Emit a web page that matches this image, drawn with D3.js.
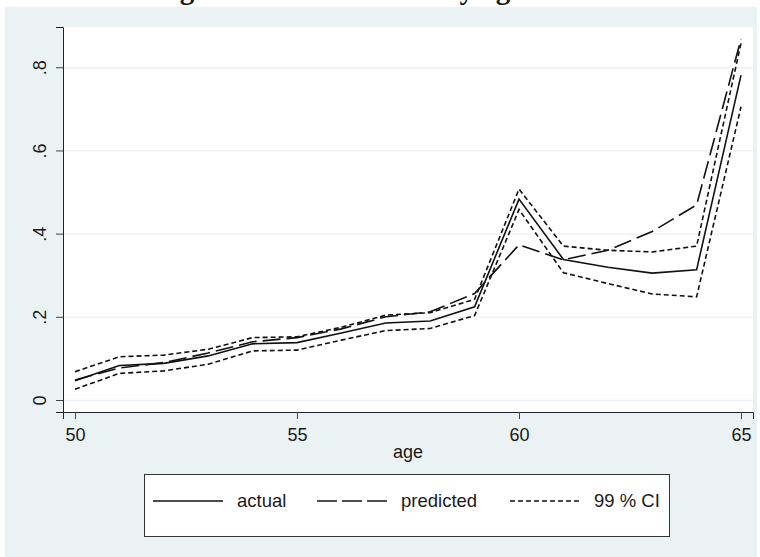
<!DOCTYPE html>
<html>
<head>
<meta charset="utf-8">
<script src="https://cdn.jsdelivr.net/npm/d3@7"></script>
<style>
  body { margin: 0; background: #fff; }
  text { font-family: "Liberation Sans", Arial, sans-serif; fill: #1a1a1a; }
</style>
</head>
<body>
<div class="chart"></div>
<script>
// data
var ages = [50, 51, 52, 53, 54, 55, 56, 57, 58, 59, 60, 61, 62, 63, 64, 65];
var actual    = [0.046, 0.083, 0.088, 0.106, 0.135, 0.138, 0.161, 0.185, 0.190, 0.224, 0.483, 0.338, 0.319, 0.305, 0.313, 0.781];
var predicted = [0.048, 0.077, 0.090, 0.113, 0.140, 0.150, 0.171, 0.200, 0.212, 0.256, 0.373, 0.337, 0.360, 0.405, 0.469, 0.868];
var ciUpper   = [0.068, 0.104, 0.108, 0.122, 0.150, 0.152, 0.175, 0.204, 0.210, 0.242, 0.507, 0.370, 0.360, 0.356, 0.370, 0.858];
var ciLower   = [0.026, 0.064, 0.070, 0.086, 0.118, 0.120, 0.144, 0.167, 0.172, 0.203, 0.458, 0.306, 0.280, 0.255, 0.248, 0.705];

var xTicks = [50, 55, 60, 65];
var yTicks = [0, 0.2, 0.4, 0.6, 0.8];
var legendLabels = ["actual", "predicted", "99 % CI"];
var titleText = "Figure 2: Hazard rates by age";

var W = 760, H = 557;
var plot = {left: 63, right: 753, top: 27, bottom: 412};

var svg = d3.select(".chart").append("svg")
    .attr("width", W)
    .attr("height", H);

// outer stata-like background
svg.append("rect")
    .attr("x", 5).attr("y", 7)
    .attr("width", 752).attr("height", 550)
    .attr("fill", "#eaf2f3");

// title, mostly cut off above the page (only descenders show)
svg.append("text")
    .attr("x", 154)
    .attr("y", -1)
    .style("font-family", "'Liberation Serif', 'Times New Roman', serif")
    .style("font-weight", "bold")
    .style("font-size", "29px")
    .text(titleText);

// plot region
svg.append("rect")
    .attr("x", plot.left).attr("y", plot.top)
    .attr("width", plot.right - plot.left)
    .attr("height", plot.bottom - plot.top)
    .attr("fill", "#fff");

var x = d3.scaleLinear().domain([49.73, 65.27]).range([plot.left, plot.right]);
var y = d3.scaleLinear().domain([-0.02885, 0.8968]).range([plot.bottom, plot.top]);

// grid lines
svg.append("g")
    .attr("transform", "translate(" + plot.left + ",0)")
    .call(d3.axisLeft(y).tickValues(yTicks).tickSize(-(plot.right - plot.left)).tickFormat(""))
    .call(function (g) {
        g.select(".domain").remove();
        g.selectAll("line").attr("stroke", "#eaf2f3").attr("stroke-width", 1.3);
    });

// series
var series = [
    {name: "actual", values: actual, dash: null},
    {name: "predicted", values: predicted, dash: "18,6"},
    {name: "upper", values: ciUpper, dash: "5,3"},
    {name: "lower", values: ciLower, dash: "5,3"}
];

var line = d3.line()
    .x(function (d, i) { return x(ages[i]); })
    .y(function (d) { return y(d); });

svg.append("g").classed("lines", true)
    .selectAll("path")
    .data(series)
    .enter()
    .append("path")
    .attr("d", function (d) { return line(d.values); })
    .attr("fill", "none")
    .attr("stroke", "#111")
    .attr("stroke-width", 1.6)
    .attr("stroke-dasharray", function (d) { return d.dash; });

// y axis
svg.append("g")
    .attr("transform", "translate(" + plot.left + ",0)")
    .call(d3.axisLeft(y).tickValues(yTicks).tickSizeOuter(0).tickSize(7)
        .tickFormat(function (d) { return d === 0 ? "0" : String(+d.toFixed(1)).replace("0.", "."); }))
    .call(function (g) {
        g.select(".domain").attr("stroke", "#222");
        g.selectAll("line").attr("stroke", "#444");
        g.selectAll("text")
            .attr("x", null)
            .attr("dy", "0.35em")
            .attr("text-anchor", "middle")
            .attr("transform", "translate(-23,0) rotate(-90)")
            .style("font-size", "18px")
            .style("font-family", "'Liberation Sans', Arial, sans-serif")
            .attr("fill", "#1a1a1a");
    });

// x axis
svg.append("g")
    .attr("transform", "translate(0," + plot.bottom + ")")
    .call(d3.axisBottom(x).tickValues(xTicks).tickSizeOuter(0).tickSize(7).tickPadding(9))
    .call(function (g) {
        g.select(".domain").attr("stroke", "#222");
        g.selectAll("line").attr("stroke", "#444");
        g.selectAll("text")
            .style("font-size", "18px")
            .style("font-family", "'Liberation Sans', Arial, sans-serif")
            .attr("fill", "#1a1a1a");
    });

svg.append("text")
    .attr("x", (plot.left + plot.right) / 2)
    .attr("y", 458)
    .attr("text-anchor", "middle")
    .style("font-size", "18px")
    .text("age");

// legend
var legend = svg.append("g").classed("legend", true);
legend.append("rect")
    .attr("x", 144.5).attr("y", 474.5)
    .attr("width", 525).attr("height", 62)
    .attr("fill", "#fff")
    .attr("stroke", "#333")
    .attr("stroke-width", 1);

var keyX = [153, 317, 510];
var keyDash = [null, "20,5", "5,3"];

var items = legend.selectAll("g.item")
    .data(legendLabels)
    .enter()
    .append("g")
    .attr("class", "item")
    .attr("transform", function (d, i) { return "translate(" + keyX[i] + ",501)"; });

items.append("line")
    .attr("x1", 0).attr("x2", 70)
    .attr("stroke", "#111")
    .attr("stroke-width", 1.6)
    .attr("stroke-dasharray", function (d, i) { return keyDash[i]; });

items.append("text")
    .attr("x", 84)
    .attr("dy", "0.35em")
    .style("font-size", "18.5px")
    .text(function (d) { return d; });
</script>
</body>
</html>
